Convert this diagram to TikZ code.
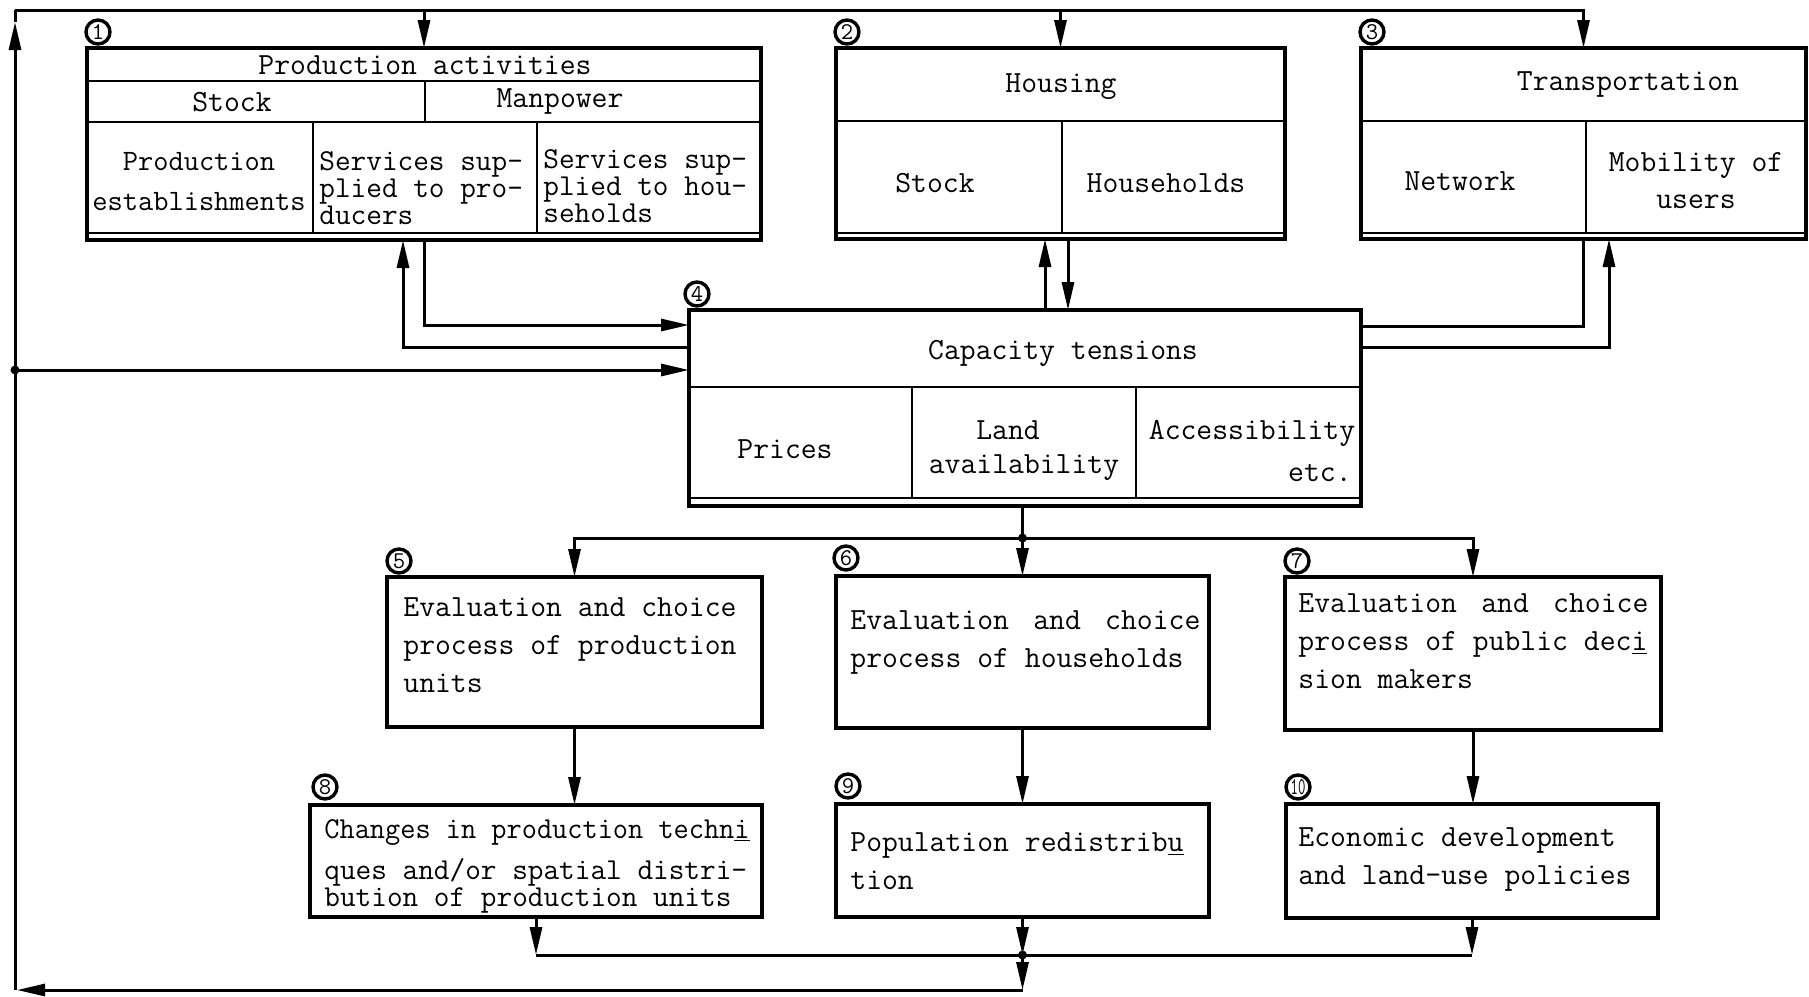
\documentclass[tikz,border=0pt]{standalone}
\usepackage{fontspec}
\usepackage{graphicx}
\usetikzlibrary{arrows.meta,calc}
\newcommand\tw{\ttfamily\addfontfeature{FakeBold=1.6}}
\begin{document}
\begin{tikzpicture}[x=0.5pt,y=-0.5pt,
  box/.style={draw, line width=1.7pt, inner sep=0pt, outer sep=0pt},
  inl/.style={line width=1.4pt},
  ln/.style={line width=1.5pt},
  arr/.style={line width=1.5pt, -{Triangle[length=14pt,width=6pt]}},
  txt/.style={font=\tw\fontsize{15.4pt}{19pt}\selectfont, inner sep=0pt},
  txs/.style={font=\tw\fontsize{15.2pt}{13.5pt}\selectfont, inner sep=0pt},
  circ/.style={circle, draw, line width=1.7pt, minimum size=12pt, inner sep=0pt, fill=white, font=\tw\fontsize{12pt}{12pt}\selectfont},
  dot/.style={circle, fill, minimum size=4.5pt, inner sep=0pt}]
\useasboundingbox (0,0) rectangle (1809,996);

% ---- boxes ----
\node[box, minimum width=337pt, minimum height=96pt] (b1) at (424,144) {};
\node[box, minimum width=224.5pt, minimum height=95.5pt] (b2) at (1060.5,143.5) {};
\node[box, minimum width=222.5pt, minimum height=95.5pt] (b3) at (1583.5,143.5) {};
\node[box, minimum width=336pt, minimum height=98pt] (b4) at (1025,408) {};
\node[box, minimum width=187.5pt, minimum height=75pt] (b5) at (574.5,652) {};
\node[box, minimum width=186.5pt, minimum height=76pt] (b6) at (1022.5,652) {};
\node[box, minimum width=188pt, minimum height=76.5pt] (b7) at (1473,653.5) {};
\node[box, minimum width=226pt, minimum height=56pt] (b8) at (536,861) {};
\node[box, minimum width=186.5pt, minimum height=56.5pt] (b9) at (1022.5,860.5) {};
\node[box, minimum width=186pt, minimum height=57pt] (b10) at (1472,861) {};

% ---- internal divisions ----
\draw[inl] (87,81) -- (761,81);
\draw[inl] (87,122) -- (761,122);
\draw[inl] (425,81) -- (425,122);
\draw[inl] (313,122) -- (313,233);
\draw[inl] (537,122) -- (537,233);
\draw[inl] (87,233) -- (761,233);
\draw[inl] (836,121) -- (1285,121);
\draw[inl] (1062,121) -- (1062,233);
\draw[inl] (836,233) -- (1285,233);
\draw[inl] (1361,121) -- (1806,121);
\draw[inl] (1586,121) -- (1586,233);
\draw[inl] (1361,233) -- (1806,233);
\draw[inl] (689,387) -- (1361,387);
\draw[inl] (912,387) -- (912,498);
\draw[inl] (1136,387) -- (1136,498);
\draw[inl] (689,498) -- (1361,498);

% ---- circled numbers ----
\node[circ] (n1) at ([xshift=5.5pt,yshift=8pt]b1.north west) {1};
\node[circ] (n2) at ([xshift=5.5pt,yshift=8pt]b2.north west) {2};
\node[circ] (n3) at ([xshift=5.5pt,yshift=8pt]b3.north west) {3};
\node[circ] (n4) at ([xshift=4pt,yshift=8pt]b4.north west) {4};
\node[circ] (n5) at ([xshift=6pt,yshift=8pt]b5.north west) {5};
\node[circ] (n6) at ([xshift=5pt,yshift=9pt]b6.north west) {6};
\node[circ] (n7) at ([xshift=6pt,yshift=8pt]b7.north west) {7};
\node[circ] (n8) at ([xshift=7.5pt,yshift=9pt]b8.north west) {8};
\node[circ] (n9) at ([xshift=6pt,yshift=9pt]b9.north west) {9};
\node[circ] (n10) at ([xshift=6pt,yshift=8.5pt]b10.north west) {\scalebox{0.6}[1]{10}};

% ---- texts ----
\node[txt] (t1a) at (425,65) {Production activities};
\node[txt] (t1b) at (232,102) {Stock};
\node[txt] (t1c) at (560,102) {Manpower};
\node[txt, align=center, font=\tw\fontsize{14.8pt}{20pt}\selectfont] (t1d) at (199,182) {Production\\establishments};
\node[txs, align=left, anchor=west] (t1e) at (319,188) {Services sup-\\plied to pro-\\ducers};
\node[txs, align=left, anchor=west] (t1f) at (543,186) {Services sup-\\plied to hou-\\seholds};
\node[txt] (t2a) at (1061,87) {Housing};
\node[txt] (t2b) at (935,183) {Stock};
\node[txt] (t2c) at (1166,183) {Households};
\node[txt] (t3a) at (1628,85) {Transportation};
\node[txt] (t3b) at (1460,181) {Network};
\node[txt, align=center, font=\tw\fontsize{15.4pt}{18.5pt}\selectfont] (t3c) at (1696,181) {Mobility of\\users};
\node[txt] (t4a) at (1063,353) {Capacity tensions};
\node[txt] (t4b) at (785,449) {Prices};
\node[txt] (t4c) at (1008,430) {Land};
\node[txt] (t4d) at (1024,468) {availability};
\node[txt] (t4e) at (1252,433) {Accessibility};
\node[txt, anchor=east] (t4f) at (1352,473) {etc.};
\node[txt, align=left, anchor=west] (t5) at (403,645) {Evaluation and choice\\process of production\\units};
\node[txt, align=left, anchor=west] (t6) at (850,642.5) {\hbox to 175pt{Evaluation\hfill and\hfill choice}\\process of households};
\node[txt, align=left, anchor=west] (t7) at (1298,641.5) {\hbox to 175pt{Evaluation\hfill and\hfill choice}\\process of public dec\underline{i}\\sion makers};
\node[txs, align=left, anchor=west] (t8) at (324,866) {\scalebox{0.97}[1]{Changes in production techn\underline{i}}\\[5.5pt]ques and/or spatial distri-\\bution of production units};
\node[txt, align=left, anchor=west] (t9) at (850,861) {Population redistrib\underline{u}\\tion};
\node[txt, align=left, anchor=west] (t10) at (1298,859) {Economic development\\and land-use policies};

% ---- feedback loop ----
\coordinate (cTL) at (15,10);
\coordinate (cBL) at (15,990);
\coordinate (dL) at (15,370);
\draw[arr] (cBL) -- ([yshift=-6pt]cTL);
\draw[ln] ([yshift=-6pt]cTL) -- (cTL);
\draw[arr] (cTL) -| (b3.north);
\draw[arr] (b1.north |- cTL) -- (b1.north);
\draw[arr] (b2.north |- cTL) -- (b2.north);
\node[dot] (dotL) at (dL) {};
\draw[arr] (dL) -- (dL -| b4.west);

% ---- box 1 <-> box 4 ----
\draw[arr] (b1.south) |- ([yshift=-7.5pt]b4.north west);
\draw[arr] ([yshift=-18.5pt]b4.north west) -| ([xshift=-10.5pt]b1.south);
% ---- box 2 <-> box 4 ----
\draw[arr] ([xshift=-7.75pt]b2.south |- b4.north) -- ([xshift=-7.75pt]b2.south);
\draw[arr] ([xshift=3.75pt]b2.south) -- ([xshift=3.75pt]b2.south |- b4.north);
% ---- box 3 <-> box 4 ----
\draw[ln] (b3.south) |- ([yshift=-8pt]b4.north east);
\draw[arr] ([yshift=-18.5pt]b4.north east) -| ([xshift=12.75pt]b3.south);

% ---- distribution to 5,6,7 ----
\coordinate (dM) at ([yshift=19pt]b6.north);
\draw[ln] (b4.south -| dM) -- (dM);
\node[dot] (dotM) at (dM) {};
\draw[arr] (dM) -- (b6.north);
\draw[arr] (dM) -| (b5.north);
\draw[arr] (dM) -| (b7.north);

% ---- 5->8, 6->9, 7->10 ----
\draw[arr] (b5.south) -- (b5.south |- b8.north);
\draw[arr] (b6.south) -- (b9.north);
\draw[arr] (b7.south) -- (b7.south |- b10.north);

% ---- collector ----
\coordinate (dB) at ([yshift=-19pt]b9.south);
\draw[ln] (b8.south |- dB) -- (b10.south |- dB);
\draw[arr] (b8.south) -- (b8.south |- dB);
\draw[arr] (b10.south) -- (b10.south |- dB);
\draw[arr] (b9.south) -- (dB);
\node[dot] (dotB) at (dB) {};
\draw[arr] (dB) -- (dB |- cBL);
\draw[arr] (dB |- cBL) -- ([xshift=1pt]cBL);
\end{tikzpicture}
\end{document}
